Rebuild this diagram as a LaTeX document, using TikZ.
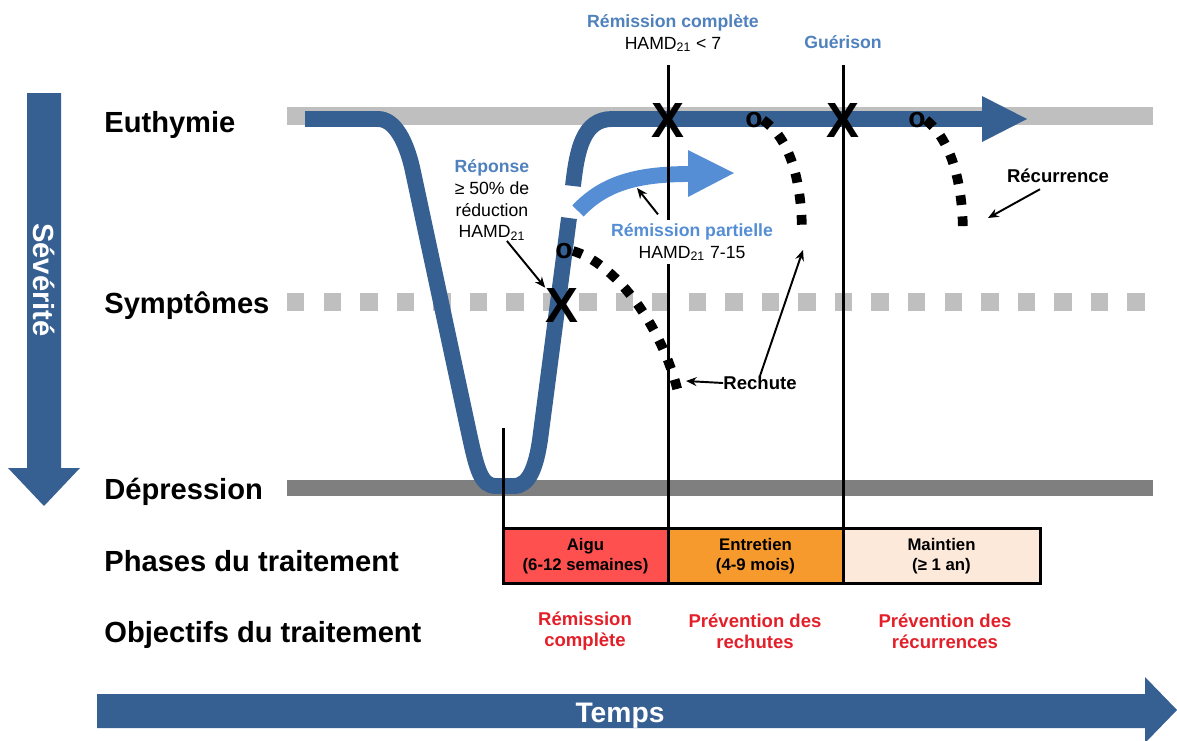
\documentclass[tikz,border=0pt]{standalone}
\usepackage{fontspec}
\setmainfont{Liberation Sans}
\usepackage{xcolor}
\usetikzlibrary{arrows.meta}
\definecolor{sevblue}{HTML}{376092}
\definecolor{lightblue}{HTML}{558ED5}
\definecolor{textblue}{HTML}{4F81BD}
\definecolor{bandgray}{HTML}{BFBFBF}
\definecolor{deepgray}{HTML}{7F7F7F}
\definecolor{aigured}{HTML}{FF5050}
\definecolor{orangebox}{HTML}{F79A2E}
\definecolor{peach}{HTML}{FDE9D9}
\definecolor{goalred}{HTML}{E3202A}

\begin{document}
\begin{tikzpicture}[x=0.5667pt, y=-0.5667pt,
    axislabel/.style={anchor=base west, inner sep=0, font=\fontsize{16.5}{20}\selectfont\bfseries},
    note/.style={align=center, inner sep=0, font=\fontsize{10}{12.4}\selectfont},
    phase/.style={align=center, inner sep=0, font=\fontsize{9.5}{11.3}\selectfont\bfseries},
    goal/.style={align=center, inner sep=0, text=goalred, font=\fontsize{10.5}{11.9}\selectfont\bfseries},
    xmark/.style={inner sep=0, font=\fontsize{28}{28}\selectfont\bfseries},
    omark/.style={inner sep=0, font=\fontsize{16}{16}\selectfont\bfseries},
    relapse/.style={line width=5.5pt, dash pattern=on 5.5pt off 6.5pt},
    pointer/.style={line width=1.1pt, -{Stealth[length=6pt, width=5pt]}},
    divider/.style={line width=1.7pt}]
  \useasboundingbox (0,0) rectangle (1177,740);

  % severity axis
  \fill[sevblue] (27,93) -- (61,93) -- (61,468) -- (80,468) -- (44,506) -- (8,468) -- (27,468) -- cycle;
  \node[rotate=-90, text=white, font=\fontsize{16.5}{20}\selectfont\bfseries] (sev) at (44,280) {Sévérité};

  \node[axislabel] (euth) at (104,132) {Euthymie};
  \node[axislabel] (sympt) at (104,313) {Symptômes};
  \node[axislabel] (depr) at (104,499) {Dépression};
  \node[axislabel] (phases) at (104,571) {Phases du traitement};
  \node[axislabel] (objectifs) at (104,642) {Objectifs du traitement};

  % levels
  \draw[bandgray, line width=10.2pt] (287,116) -- (1153,116);
  \draw[bandgray, line width=10.2pt, dash pattern=on 9.9pt off 10.8pt] (287,302) -- (1153,302);
  \draw[deepgray, line width=9.6pt] (287,488) -- (1153,488);

  % course of the episode
  \draw[sevblue, line width=9pt] (305,119) -- (378,119) .. controls (395,119) and (406,142) .. (412,167)
    -- (469,433) .. controls (477,470) and (481,486) .. (496,486) -- (514,486)
    .. controls (529,486) and (536,467) .. (540,440) -- (569,218);
  \draw[sevblue, line width=9pt] (573,186) .. controls (577,150) and (583,119) .. (612,119) -- (985,119);
  \fill[sevblue] (982,96) -- (1027,119) -- (982,142) -- cycle;
  \draw[lightblue, line width=9pt] (578,211) .. controls (605,182) and (640,174) .. (690,174);
  \fill[lightblue] (688,150) -- (734,173) -- (688,197) -- cycle;

  \foreach \x/\y/\n in {564/251/oresp, 754/120/orech, 917/120/orecur}
    \node[omark] (\n) at (\x,\y) {o};
  \draw[relapse] (oresp.east) .. controls (612,262) and (660,320) .. (678,392);
  \draw[relapse] (orech.east) .. controls (785,135) and (802,170) .. (802,235);
  \draw[relapse] (orecur.east) .. controls (945,135) and (963,170) .. (963,235);

  \draw[divider] (668,65) -- (668,528);
  \draw[divider] (843,65) -- (843,528);
  \draw[divider] (503,428) -- (503,528);

  \foreach \x/\y/\n in {668/120/xcomp, 843/120/xguer, 562/305/xrep}
    \node[xmark] (\n) at (\x,\y) {X};

  % labels
  \node[note] (remcomp) at (673,33) {\textcolor{textblue}{\bfseries Rémission complète}\\HAMD\textsubscript{21} < 7};
  \node[note, text=textblue, font=\fontsize{10}{12.4}\selectfont\bfseries] (guer) at (843,42) {Guérison};
  \node[note] (reponse) at (492,200) {\textcolor{textblue}{\bfseries Réponse}\\≥ 50\% de\\réduction\\HAMD\textsubscript{21}};
  \node[note, fill=white, inner sep=2pt] (partielle) at (692,242) {\textcolor{lightblue}{\bfseries Rémission partielle}\\HAMD\textsubscript{21} 7-15};
  \node[note, font=\fontsize{10.5}{12.4}\selectfont\bfseries] (rechute) at (760,383) {Rechute};
  \node[note, font=\fontsize{10.5}{12.4}\selectfont\bfseries] (recur) at (1058,176) {Récurrence};

  \coordinate (pend) at (637,188);
  \coordinate (rechA) at (686,381);
  \coordinate (rechB) at (803,250);
  \coordinate (recurend) at (988,218);
  \draw[pointer] (reponse.-70) -- (xrep.north west);
  \draw[pointer] ([shift={(-34,-5)}]partielle.north) -- (pend);
  \draw[pointer] (rechute.west) -- (rechA);
  \draw[pointer] (rechute.north) -- (rechB);
  \draw[pointer] ([shift={(-18,6)}]recur.south) -- (recurend);

  % phases
  \draw[line width=1.7pt, fill=aigured] (503,528) rectangle (668,583);
  \draw[line width=1.7pt, fill=orangebox] (668,528) rectangle (843,583);
  \draw[line width=1.7pt, fill=peach] (843,528) rectangle (1040,583);
  \node[phase] (aigu) at (585.5,556) {Aigu\\(6-12 semaines)};
  \node[phase] (entretien) at (755.5,556) {Entretien\\(4-9 mois)};
  \node[phase] (maintien) at (941.5,556) {Maintien\\(≥ 1 an)};

  \node[goal] (goalA) at (585,631) {Rémission\\complète};
  \node[goal] (goalB) at (755,631) {Prévention des\\rechutes};
  \node[goal] (goalC) at (945,631) {Prévention des\\récurrences};

  % time axis
  \fill[sevblue] (97,694) -- (1145,694) -- (1145,677) -- (1177,710) -- (1145,743) -- (1145,728) -- (97,728) -- cycle;
  \node[anchor=base, text=white, font=\fontsize{16}{19}\selectfont\bfseries] (temps) at (620,722) {Temps};
\end{tikzpicture}
\end{document}
